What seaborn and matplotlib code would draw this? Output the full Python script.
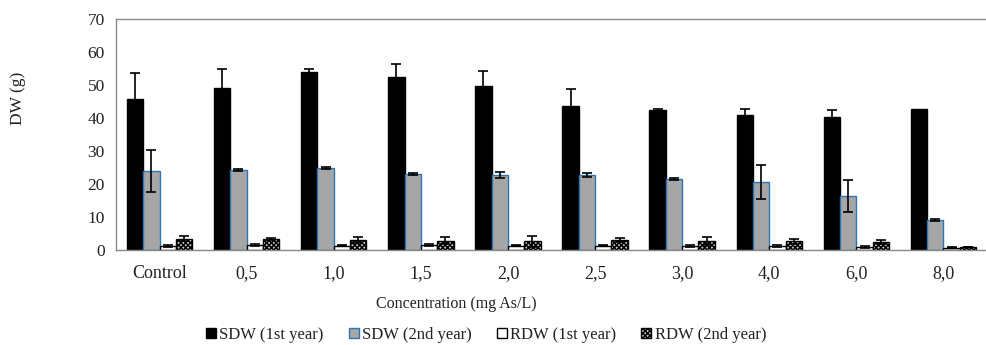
import numpy as np
import pandas as pd
import matplotlib
matplotlib.use("Agg")
import matplotlib.pyplot as plt
import seaborn as sns
from matplotlib.patches import Patch

categories = ["Control", "0,5", "1,0", "1,5", "2,0", "2,5", "3,0", "4,0", "6,0", "8,0"]
series = ["SDW (1st year)", "SDW (2nd year)", "RDW (1st year)", "RDW (2nd year)"]

sdw1 = [45.8, 49.0, 53.8, 52.5, 49.8, 43.5, 42.3, 40.9, 40.4, 42.6]
sdw1_err = [7.7, 5.7, 1.0, 4.0, 4.4, 5.4, 0.3, 1.9, 1.9, 0.0]
sdw2 = [23.9, 24.1, 24.8, 23.1, 22.7, 22.7, 21.5, 20.6, 16.3, 9.0]
sdw2_err = [6.3, 0.3, 0.4, 0.3, 1.0, 0.6, 0.4, 5.1, 4.9, 0.3]
rdw1 = [1.3, 1.4, 1.3, 1.5, 1.3, 1.3, 1.2, 1.2, 1.0, 0.7]
rdw1_err = [0.3, 0.3, 0.2, 0.3, 0.2, 0.2, 0.2, 0.4, 0.3, 0.1]
rdw2 = [3.4, 3.3, 3.0, 2.8, 2.6, 3.0, 2.7, 2.6, 2.5, 0.9]
rdw2_err = [0.7, 0.4, 0.8, 1.0, 1.7, 0.6, 1.1, 0.8, 0.6, 0.1]

values = [sdw1, sdw2, rdw1, rdw2]
errors = [sdw1_err, sdw2_err, rdw1_err, rdw2_err]

rows = []
for s, vals in zip(series, values):
    for c, v in zip(categories, vals):
        rows.append({"Concentration": c, "Series": s, "DW": v})
df = pd.DataFrame(rows)

sns.set_theme(style="white")
plt.rcParams["font.family"] = ["Liberation Serif", "DejaVu Serif"]
plt.rcParams["hatch.linewidth"] = 1.1

fig = plt.figure(figsize=(9.87, 3.45), dpi=100)
ax = fig.add_axes([116 / 987, 1 - 250 / 345, 1 - 116 / 987, (250 - 19) / 345])

palette = ["#000000", "#a6a6a6", "#ffffff", "#cccccc"]
sns.barplot(data=df, x="Concentration", y="DW", hue="Series", order=categories,
            hue_order=series, palette=palette, width=0.75, gap=0,
            errorbar=None, ax=ax, legend=False, saturation=1)

edgecolors = ["#000000", "#2e75b6", "#000000", "#000000"]
hatches = [None, None, None, "xxxxxxx"]
bar_containers = list(ax.containers)
for i, cont in enumerate(bar_containers):
    for p, e in zip(cont.patches, errors[i]):
        p.set_edgecolor(edgecolors[i])
        p.set_linewidth(1.0)
        if hatches[i]:
            p.set_hatch(hatches[i])
        x = p.get_x() + p.get_width() / 2
        h = p.get_height()
        if e > 0:
            ax.errorbar(x, h, yerr=e, color="black", capsize=3.5,
                        elinewidth=1.2, capthick=1.2, zorder=5)

ax.set_ylim(0, 70)
ax.set_yticks(np.arange(0, 71, 10))
ax.set_xlim(-0.5, 9.36)
ax.set_xticks(range(len(categories)))
ax.set_xticklabels(categories)
ax.set_xticks(np.arange(-0.5, 9.6, 1.0), minor=True)
ax.tick_params(axis="x", which="major", length=0, pad=11, labelsize=13, colors="#222222")
ax.tick_params(axis="x", which="minor", length=5, width=0.9, color="#888888", direction="out")
ax.tick_params(axis="y", length=5, width=0.9, color="#888888", direction="out",
               labelsize=12.5, pad=3, labelcolor="#222222")
ax.tick_params(axis="x", labelcolor="#222222")

for side in ["left", "bottom", "top"]:
    ax.spines[side].set_visible(True)
    ax.spines[side].set_color("#888888")
    ax.spines[side].set_linewidth(1.0)
ax.spines["right"].set_visible(False)

ax.set_xlabel("")
ax.set_ylabel("")
fig.text(18 / 987, 1 - 98 / 345, "DW (g)", rotation=90, ha="center", va="center",
         fontsize=12.5, color="#222222")
fig.text(456 / 987, 1 - 304 / 345, "Concentration (mg As/L)", ha="center", va="center",
         fontsize=11.5, color="#222222")

handles = [Patch(facecolor=palette[i], edgecolor=edgecolors[i], hatch=hatches[i],
                 linewidth=1.0) for i in range(4)]
fig.legend(handles, series, loc="center", bbox_to_anchor=(486 / 987, 1 - 335 / 345),
           ncol=4, frameon=False, fontsize=12, handlelength=0.6, handleheight=0.6,
           handletextpad=0.2, columnspacing=1.5, labelcolor="#222222")

fig.savefig("out.png", dpi=100)
